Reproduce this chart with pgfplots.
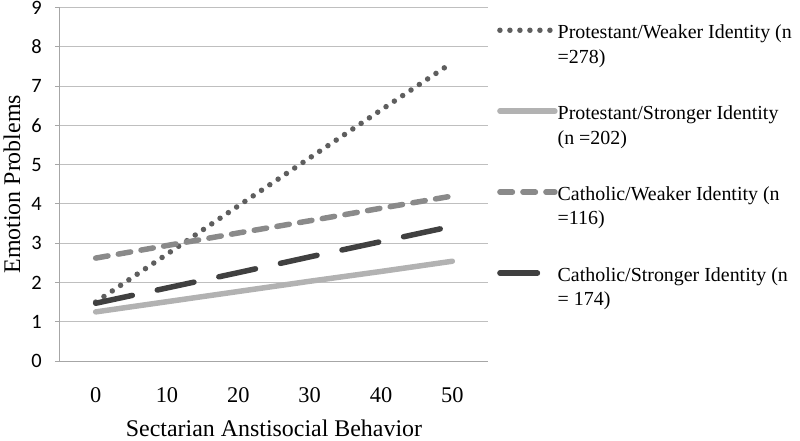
\documentclass[border=0pt]{standalone}
\usepackage{pgfplots}
\pgfplotsset{compat=1.18}
\usepackage{fontspec}
\setmainfont{Liberation Serif}
\newfontfamily\carlito{Carlito}
\definecolor{gridc}{HTML}{BFBFBF}
\definecolor{axc}{HTML}{A6A6A6}
\definecolor{pw}{HTML}{5E5E5E}
\definecolor{ps}{HTML}{B2B2B2}
\definecolor{cw}{HTML}{8A8A8A}
\definecolor{cs}{HTML}{404040}
\begin{document}
\begin{tikzpicture}
\begin{axis}[
  scale only axis,
  width=428bp, height=353.5bp,
  xmin=-5, xmax=55, ymin=0, ymax=9,
  axis x line=bottom, axis y line=left,
  axis line style={-, draw=axc, line width=1bp},
  xtick={0,10,20,30,40,50},
  ytick={0,1,2,3,4,5,6,7,8,9},
  xtick style={draw=none},
  ytick style={draw=axc, line width=1bp},
  tick align=outside,
  major tick length=5bp,
  ymajorgrids,
  grid style={draw=gridc, line width=1bp},
  /pgf/number format/assume math mode=true,
  yticklabel style={font=\carlito\fontsize{20.5}{24}\selectfont, inner sep=0pt, anchor=east, xshift=-13bp},
  xticklabel style={font=\fontsize{22.5}{24}\selectfont, inner sep=0pt, anchor=north, yshift=-21bp},
  xlabel={Sectarian Anstisocial Behavior},
  ylabel={Emotion Problems},
  xlabel style={font=\fontsize{24}{26}\selectfont, at={(axis description cs:0.5,0)}, anchor=north, inner sep=0pt, yshift=-59bp},
  ylabel style={font=\fontsize{24}{26}\selectfont, at={(axis description cs:0,0.5)}, anchor=center, inner sep=0pt, yshift=48bp},
  legend style={at={(1.021,0.963)}, anchor=north west, draw=none, fill=none, inner sep=0pt,
    font=\fontsize{20}{25}\selectfont, column sep=0bp, row sep=62bp,
    nodes={inner sep=0pt}},
  legend cell align=left,
  legend image code/.code={\draw[#1] (0bp,0bp) -- (55bp,0bp);},
  every axis plot/.append style={line width=5.5bp, line cap=round},
  clip=false,
]
\addplot[pw, dash pattern=on 0bp off 10bp] coordinates {(0,1.5) (10,2.72) (20,3.95) (30,5.17) (40,6.39) (50,7.6)};
\addlegendentry{\begin{tabular}[t]{@{}l@{}}Protestant/Weaker Identity (n\\=278)\end{tabular}}
\addplot[ps] coordinates {(0,1.25) (10,1.51) (20,1.77) (30,2.03) (40,2.28) (50,2.54)};
\addlegendentry{\begin{tabular}[t]{@{}l@{}}Protestant/Stronger Identity\\(n =202)\end{tabular}}
\addplot[cw, dash pattern=on 12.5bp off 10.5bp] coordinates {(0,2.62) (10,2.94) (20,3.26) (30,3.57) (40,3.89) (50,4.2)};
\addlegendentry{\begin{tabular}[t]{@{}l@{}}Catholic/Weaker Identity (n\\=116)\end{tabular}}
\addplot[cs, dash pattern=on 37.5bp off 25.5bp] coordinates {(0,1.47) (10,1.86) (20,2.25) (30,2.65) (40,3.04) (50,3.43)};
\addlegendentry{\begin{tabular}[t]{@{}l@{}}Catholic/Stronger Identity (n\\= 174)\end{tabular}}
\end{axis}
\pgfresetboundingbox
\path (-60bp,-80bp) rectangle (740bp,361bp);
\end{tikzpicture}
\end{document}
